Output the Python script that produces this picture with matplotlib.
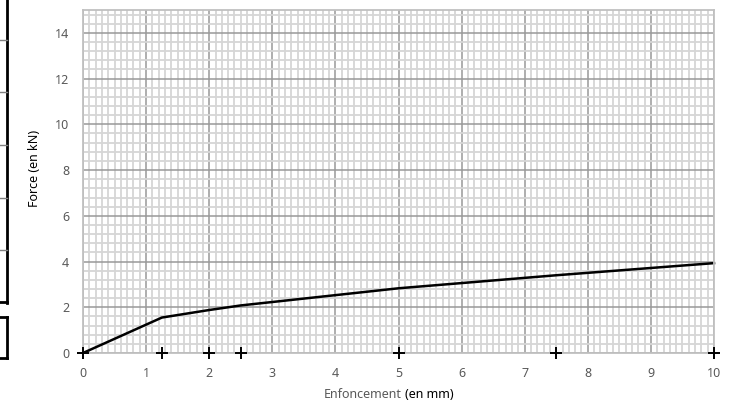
import numpy as np
import matplotlib.pyplot as plt
from matplotlib.lines import Line2D
from matplotlib.ticker import MultipleLocator

# enfoncement (mm) / force (kN)
enfoncement = [0, 1.25, 2, 2.5, 5, 7.5, 10]
force = [0, 1.55, 1.88, 2.08, 2.83, 3.4, 3.93]
repere = [0, 0, 0, 0, 0, 0, 0]

plt.rcParams['font.family'] = ['Noto Sans', 'DejaVu Sans']

W, H = 735, 409
fig = plt.figure(figsize=(W / 100, H / 100), dpi=100)
ax = fig.add_axes([83 / W, 1 - 353 / H, (714 - 83) / W, (353 - 10) / H])

ax.set_xlim(0, 10)
ax.set_ylim(0, 15)
ax.xaxis.set_major_locator(MultipleLocator(1))
ax.xaxis.set_minor_locator(MultipleLocator(0.1))
ax.yaxis.set_major_locator(MultipleLocator(2))
ax.yaxis.set_minor_locator(MultipleLocator(0.4))
ax.grid(which='minor', color='#d6d6d6', lw=1.3)
ax.grid(which='major', color='#999999', lw=1.1)
ax.set_axisbelow(True)
ax.tick_params(which='both', length=0, labelsize=9, labelcolor='#595959')
ax.tick_params(axis='x', pad=10)
ax.tick_params(axis='y', pad=10)
for s in ax.spines.values():
    s.set_color('#c0c0c0')
    s.set_linewidth(1.3)

ax.plot(enfoncement, force, color='black', lw=1.8, clip_on=False)
ax.plot(enfoncement, repere, ls='none', marker='+', ms=8, mew=1.4,
        color='black', clip_on=False, zorder=5)

fig.text(402 / W, 1 - 398 / H, 'Enfoncement', ha='right', fontsize=9, color='#595959')
fig.text(405 / W, 1 - 398 / H, '(en mm)', ha='left', fontsize=9, color='black')
fig.text(34 / W, 1 - 168 / H, 'Force (en kN)', rotation=90, ha='center', va='center',
         fontsize=9, color='black')

# bord du tableau voisin, coupé à gauche
def px(x0, y0, x1, y1, c='black', lw=2):
    fig.add_artist(Line2D([x0 / W, x1 / W], [1 - y0 / H, 1 - y1 / H],
                          color=c, lw=lw, transform=fig.transFigure))

px(7, 0, 7, 303)
for y in [40, 92, 145, 198, 250]:
    px(0, y, 7, y, c='#7f7f7f', lw=1)
px(0, 302, 7, 302)
px(0, 317, 7, 317)
px(0, 358, 7, 358)
px(7, 317, 7, 358)

fig.savefig('out.png', dpi=100)
